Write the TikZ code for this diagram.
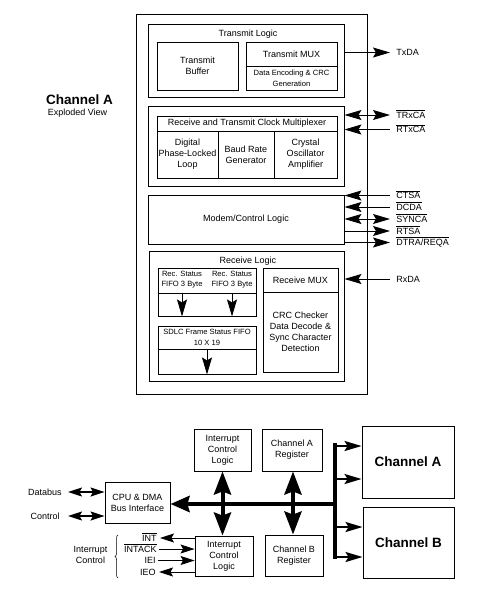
\documentclass[tikz,border=0pt]{standalone}
\usepackage{fontspec}
\setmainfont{Liberation Sans}
\usepackage{tikz}
\usetikzlibrary{arrows.meta,decorations.pathreplacing}

\newcommand{\ovl}[1]{$\overline{\mbox{#1}}$}

\begin{document}
\begin{tikzpicture}[x=1pt,y=-1pt,line width=0.9pt,
    >={Stealth[length=17pt,width=10pt,inset=3pt]},
    box/.style={draw,inner sep=1pt,align=center,font=\fontsize{9}{11}\selectfont},
    txt/.style={inner sep=0pt,align=center,font=\fontsize{9}{11}\selectfont},
    smalltext/.style={font=\fontsize{7.6}{10.7}\selectfont},
    bigtext/.style={font=\fontsize{13.5}{16}\selectfont\bfseries},
    sigtext/.style={inner sep=0pt,anchor=west,text height=7pt,text depth=1pt,font=\fontsize{9}{11}\selectfont},
    bus/.style={line width=4pt,>={Stealth[length=23pt,width=17pt,inset=3pt]}},
    smalltip/.style={>={Stealth[length=14pt,width=9pt,inset=2.5pt]}}]
  \useasboundingbox (0,0) rectangle (495,592);

  % channel A, exploded view
  \node[bigtext] (chAtitle) at (79.5,100) {Channel A};
  \node[txt] (chAsub) at (77.5,113) {Exploded View};
  \node[box,minimum width=231,minimum height=380] (chA) at (251.5,204) {};

  % transmit logic
  \node[box,minimum width=196,minimum height=73] (txl) at (246,60.5) {};
  \node[txt] (txltitle) at (248,34) {Transmit Logic};
  \node[box,minimum width=81,minimum height=48] (txbuf) at (197.5,66) {Transmit\\Buffer};
  \node[box,minimum width=91,minimum height=24] (txmux) at (291.5,54) {Transmit MUX};
  \node[box,smalltext,minimum width=91,minimum height=24] (txenc) at (291.5,78) {Data Encoding \& CRC\\Generation};

  % clock multiplexer
  \node[box,minimum width=196,minimum height=80] (clk) at (246,146) {};
  \node[box,minimum width=180,minimum height=15] (clkmux) at (247,123.5) {Receive and Transmit Clock Multiplexer};
  \node[box,minimum width=61,minimum height=47] (dpll) at (187.5,154.5) {Digital\\Phase-Locked\\Loop};
  \node[box,minimum width=56,minimum height=47] (brg) at (246,154.5) {Baud Rate\\Generator};
  \node[box,minimum width=63,minimum height=47] (osc) at (305.5,154.5) {Crystal\\Oscillator\\Amplifier};

  % modem / control
  \node[box,minimum width=196,minimum height=49] (modem) at (246,219.5) {Modem/Control Logic};

  % receive logic
  \node[box,minimum width=195,minimum height=130] (rxl) at (246.5,316) {};
  \node[txt] (rxltitle) at (248,261) {Receive Logic};
  \node[box,minimum width=98,minimum height=25] (rstat) at (207,280.5) {};
  \node[box,minimum width=98,minimum height=23] (rstatbot) at (207,304.5) {};
  \node[txt,smalltext] (rstat1) at (182,279.5) {Rec. Status\\FIFO 3 Byte};
  \node[txt,smalltext] (rstat2) at (232,279.5) {Rec. Status\\FIFO 3 Byte};
  \node[box,smalltext,minimum width=98,minimum height=23] (sdlc) at (207,337.5) {SDLC Frame Status FIFO\\10 X 19};
  \node[box,minimum width=98,minimum height=25] (sdlcbot) at (207,361.5) {};
  \node[box,minimum width=75,minimum height=24] (rxmux) at (300.5,280) {Receive MUX};
  \node[box,minimum width=75,minimum height=80] (rxdec) at (300.5,332) {CRC Checker\\Data Decode \&\\Sync Character\\Detection};
  \draw[->] (rstat1 |- rstatbot.north) -- (rstat1 |- rstatbot.south);
  \draw[->] (rstat2 |- rstatbot.north) -- (rstat2 |- rstatbot.south);
  \draw[->] (sdlcbot.north) -- (sdlcbot.south);

  % channel A pins
  \node[sigtext] (txda) at (396,52.5) {TxDA};
  \node[sigtext] (trxca) at (396,115) {\ovl{TRxCA}};
  \node[sigtext] (rtxca) at (396,129.5) {\ovl{RTxCA}};
  \node[sigtext] (ctsa) at (396,195.5) {\ovl{CTSA}};
  \node[sigtext] (dcda) at (396,207) {\ovl{DCDA}};
  \node[sigtext] (synca) at (396,219) {\ovl{SYNCA}};
  \node[sigtext] (rtsa) at (396,231) {\ovl{RTSA}};
  \node[sigtext] (dtra) at (396,242.5) {\ovl{DTRA/REQA}};
  \node[sigtext] (rxda) at (396,279) {RxDA};
  \draw[->,shorten >=6pt] (txl.east |- txda) -- (txda);
  \draw[<->,shorten >=6pt] (clk.east |- trxca) -- (trxca);
  \draw[->,shorten <=6pt] (rtxca) -- (clk.east |- rtxca);
  \draw[->,shorten <=6pt] (ctsa) -- (modem.east |- ctsa);
  \draw[->,shorten <=6pt] (dcda) -- (modem.east |- dcda);
  \draw[<->,shorten >=6pt] (modem.east |- synca) -- (synca);
  \draw[->,shorten >=6pt] (modem.east |- rtsa) -- (rtsa);
  \draw[->,shorten >=6pt] (modem.east |- dtra) -- (dtra);
  \draw[->,shorten <=6pt] (rxda) -- (rxl.east |- rxda);

  % block diagram
  \node[box,minimum width=57,minimum height=42] (icla) at (222.5,450) {Interrupt\\Control\\Logic};
  \node[box,minimum width=60,minimum height=42] (rega) at (292,450) {Channel A\\Register};
  \node[box,minimum width=58,minimum height=40] (iclb) at (224,556) {Interrupt\\Control\\Logic};
  \node[box,minimum width=58,minimum height=41] (regb) at (294,555.5) {Channel B\\Register};
  \node[box,bigtext,minimum width=92,minimum height=72] (cha) at (408,462) {Channel A};
  \node[box,bigtext,minimum width=91,minimum height=71] (chb) at (408.5,542.5) {Channel B};
  \node[box,minimum width=65,minimum height=41] (cpu) at (137.5,502.5) {CPU \& DMA\\Bus Interface};

  % internal bus
  \coordinate (busjoin) at (335,504);
  \coordinate (bustop) at (335,443);
  \coordinate (busbot) at (335,559);
  \coordinate (br1) at (335,446);
  \coordinate (br2) at (335,479);
  \coordinate (br3) at (335,527);
  \coordinate (br4) at (335,557);
  \draw[bus] (bustop) -- (busbot);
  \draw[bus,->,>={Stealth[length=19pt,width=16pt,inset=2pt]}] (busjoin) -- (cpu.east |- busjoin);
  \draw[bus,<->] (icla.south) -- (icla.south |- iclb.north);
  \draw[bus,<->] (rega.south -| 293,0) -- (regb.north -| 293,0);
  \draw[->,line width=2pt] (br1) -- (cha.west |- br1);
  \draw[->,line width=2pt] (br2) -- (cha.west |- br2);
  \draw[->,line width=2pt] (br3) -- (chb.west |- br3);
  \draw[->,line width=2pt] (br4) -- (chb.west |- br4);

  % cpu side
  \node[sigtext,anchor=east] (databus) at (62,492) {Databus};
  \node[sigtext,anchor=east] (control) at (60,516) {Control};
  \draw[smalltip,<->,line width=1.5pt,shorten <=6pt] (databus) -- (cpu.west |- databus);
  \draw[smalltip,<->,line width=1.5pt,shorten <=8pt] (control) -- (cpu.west |- control);

  % interrupt pins
  \node[sigtext,anchor=east] (int) at (157,538) {\ovl{INT}};
  \node[sigtext,anchor=east] (intack) at (157,549) {\ovl{INTACK}};
  \node[sigtext,anchor=east] (iei) at (156,560.5) {IEI};
  \node[sigtext,anchor=east] (ieo) at (156,572) {IEO};
  \draw[smalltip,->,shorten >=3pt] (iclb.west |- int) -- (int);
  \draw[smalltip,->,shorten <=2pt] (intack) -- (iclb.west |- intack);
  \draw[smalltip,->,shorten <=2pt] (iei) -- (iclb.west |- iei);
  \draw[smalltip,->,shorten >=3pt] (iclb.west |- ieo) -- (ieo);
  \draw[decorate,decoration={brace,amplitude=3pt},line width=0.5pt] (118,578) -- (118,535);
  \node[txt] (intctl) at (90.5,555) {Interrupt\\Control};
\end{tikzpicture}
\end{document}
